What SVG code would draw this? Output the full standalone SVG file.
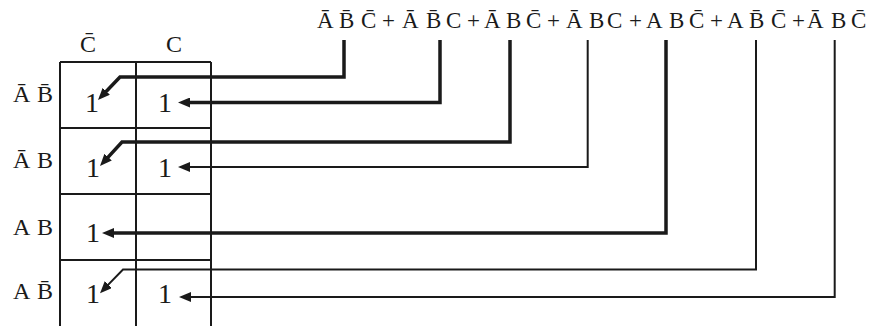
<svg xmlns="http://www.w3.org/2000/svg" width="871" height="326" viewBox="0 0 871 326">
  <style>
    .t { font-family: "Liberation Serif", "Times New Roman", serif; fill: #1a1a1a; }
    .hdr { font-size: 23px; }
    .lbl { font-size: 24px; }
    .one { font-size: 28px; }
    .grid { stroke: #1a1a1a; stroke-width: 2; fill: none; }
    .thick { stroke: #1a1a1a; stroke-width: 3.5; fill: none; }
    .thin { stroke: #1a1a1a; stroke-width: 2; fill: none; }
  </style>
  <defs>
    <marker id="ah" viewBox="0 0 12 10" refX="4" refY="5" markerWidth="12" markerHeight="10" markerUnits="userSpaceOnUse" orient="auto">
      <path d="M0,0 L12,5 L0,10 z" fill="#1a1a1a"/>
    </marker>
  </defs>
  <rect width="871" height="326" fill="#ffffff"/>

  <g id="expression">
    <text class="t hdr" y="28">
      <tspan x="317">A&#x304;</tspan><tspan x="339">B&#x304;</tspan><tspan x="361">C&#x304;</tspan><tspan x="382">+</tspan>
      <tspan x="402">A&#x304;</tspan><tspan x="426">B&#x304;</tspan><tspan x="446">C</tspan><tspan x="467">+</tspan>
      <tspan x="484">A&#x304;</tspan><tspan x="506">B</tspan><tspan x="526">C&#x304;</tspan><tspan x="547">+</tspan>
      <tspan x="566">A&#x304;</tspan><tspan x="589">B</tspan><tspan x="607">C</tspan><tspan x="629">+</tspan>
      <tspan x="646">A</tspan><tspan x="669">B</tspan><tspan x="689">C&#x304;</tspan><tspan x="710">+</tspan>
      <tspan x="727">A</tspan><tspan x="749">B&#x304;</tspan><tspan x="771">C&#x304;</tspan><tspan x="792">+</tspan>
      <tspan x="807">A&#x304;</tspan><tspan x="831">B</tspan><tspan x="851">C&#x304;</tspan>
    </text>
  </g>

  <g id="map">
    <path class="grid" d="M60,62 H211 M60,128 H211 M60,194 H211 M60,260 H211 M60,62 V326 M136,62 V326 M211,62 V326"/>
  </g>

  <g id="column-labels">
    <text class="t lbl" x="80" y="52">C&#x304;</text>
    <text class="t lbl" x="166" y="52">C</text>
  </g>

  <g id="row-labels">
    <text class="t lbl" y="102"><tspan x="13">A&#x304;</tspan><tspan x="37">B&#x304;</tspan></text>
    <text class="t lbl" y="168"><tspan x="13">A&#x304;</tspan><tspan x="37">B</tspan></text>
    <text class="t lbl" y="235"><tspan x="13">A</tspan><tspan x="37">B</tspan></text>
    <text class="t lbl" y="299"><tspan x="13">A</tspan><tspan x="37">B&#x304;</tspan></text>
  </g>

  <g id="cell-r1c1"><text class="t one" x="85" y="112">1</text></g>
  <g id="cell-r1c2"><text class="t one" x="158" y="112">1</text></g>
  <g id="cell-r2c1"><text class="t one" x="86" y="177">1</text></g>
  <g id="cell-r2c2"><text class="t one" x="158" y="177">1</text></g>
  <g id="cell-r3c1"><text class="t one" x="86" y="242">1</text></g>
  <g id="cell-r4c1"><text class="t one" x="86" y="303">1</text></g>
  <g id="cell-r4c2"><text class="t one" x="158" y="303">1</text></g>

  <g id="connectors">
    <path class="thick" d="M344,40 V77 H120 L103.5,94.2" marker-end="url(#ah)"/>
    <path class="thick" d="M440,40 V102.5 H186" marker-end="url(#ah)"/>
    <path class="thick" d="M510,40 V142 H122 L105.4,160.1" marker-end="url(#ah)"/>
    <path class="thin" d="M587.7,40 V167 H186" marker-end="url(#ah)"/>
    <path class="thick" d="M666,40 V233 H110" marker-end="url(#ah)"/>
    <path class="thin" d="M756,40 V269.5 H123 L105.6,287.4" marker-end="url(#ah)"/>
    <path class="thin" d="M834.7,40 V297 H187" marker-end="url(#ah)"/>
  </g>
</svg>
